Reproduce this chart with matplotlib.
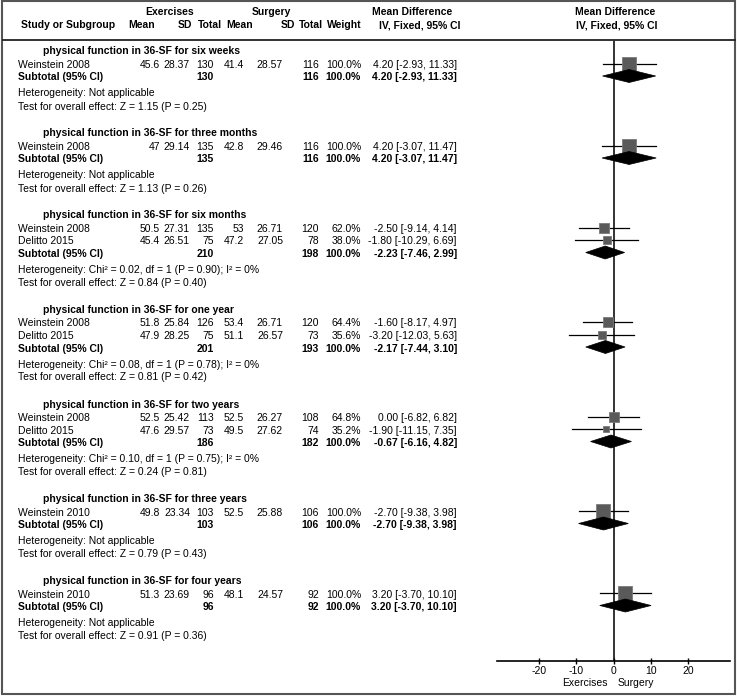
import matplotlib.pyplot as plt
from matplotlib.patches import Polygon, Rectangle
import numpy as np

plt.rcParams['font.family'] = ['Liberation Sans', 'DejaVu Sans']
plt.rcParams['axes.unicode_minus'] = False
FS = 7.5

# subgroups
groups = ["six weeks", "three months", "six months", "one year",
          "two years", "three years", "four years"]

# studies
study_group = [0, 1, 2, 2, 3, 3, 4, 4, 5, 6]
study_names = ["Weinstein 2008", "Weinstein 2008", "Weinstein 2008", "Delitto 2015",
               "Weinstein 2008", "Delitto 2015", "Weinstein 2008", "Delitto 2015",
               "Weinstein 2010", "Weinstein 2010"]
ex_mean = [45.6, 47, 50.5, 45.4, 51.8, 47.9, 52.5, 47.6, 49.8, 51.3]
ex_sd = [28.37, 29.14, 27.31, 26.51, 25.84, 28.25, 25.42, 29.57, 23.34, 23.69]
ex_n = [130, 135, 135, 75, 126, 75, 113, 73, 103, 96]
su_mean = [41.4, 42.8, 53, 47.2, 53.4, 51.1, 52.5, 49.5, 52.5, 48.1]
su_sd = [28.57, 29.46, 26.71, 27.05, 26.71, 26.57, 26.27, 27.62, 25.88, 24.57]
su_n = [116, 116, 120, 78, 120, 73, 108, 74, 106, 92]
weights = [100.0, 100.0, 62.0, 38.0, 64.4, 35.6, 64.8, 35.2, 100.0, 100.0]
md = [4.20, 4.20, -2.50, -1.80, -1.60, -3.20, 0.00, -1.90, -2.70, 3.20]
md_lo = [-2.93, -3.07, -9.14, -10.29, -8.17, -12.03, -6.82, -11.15, -9.38, -3.70]
md_hi = [11.33, 11.47, 4.14, 6.69, 4.97, 5.63, 6.82, 7.35, 3.98, 10.10]

# subtotals
sub_ex_n = [130, 135, 210, 201, 186, 103, 96]
sub_su_n = [116, 116, 198, 193, 182, 106, 92]
sub_md = [4.20, 4.20, -2.23, -2.17, -0.67, -2.70, 3.20]
sub_lo = [-2.93, -3.07, -7.46, -7.44, -6.16, -9.38, -3.70]
sub_hi = [11.33, 11.47, 2.99, 3.10, 4.82, 3.98, 10.10]
heterogeneity = ["Not applicable", "Not applicable",
                 "Chi\u00b2 = 0.02, df = 1 (P = 0.90); I\u00b2 = 0%",
                 "Chi\u00b2 = 0.08, df = 1 (P = 0.78); I\u00b2 = 0%",
                 "Chi\u00b2 = 0.10, df = 1 (P = 0.75); I\u00b2 = 0%",
                 "Not applicable", "Not applicable"]
overall_z = [1.15, 1.13, 0.84, 0.81, 0.24, 0.79, 0.91]
overall_p = [0.25, 0.26, 0.40, 0.42, 0.81, 0.43, 0.36]

xticks = [-20, -10, 0, 10, 20]

W, H = 737, 696
fig = plt.figure(figsize=(W / 100, H / 100), dpi=100)

# text layer in pixel coordinates
bg = fig.add_axes([0, 0, 1, 1])
bg.set_xlim(0, W)
bg.set_ylim(H, 0)
bg.axis('off')

# forest panel: x in mean difference, y in pixels from top
top, bottom = 40, 661
ax = fig.add_axes([497 / W, 1 - bottom / H, 233 / W, (bottom - top) / H])
ax.set_xlim(-31.3, 31.3)
ax.set_ylim(bottom, top)
ax.patch.set_visible(False)
for s in ['top', 'left', 'right']:
    ax.spines[s].set_visible(False)
ax.spines['bottom'].set_linewidth(1.2)
ax.set_yticks([])
ax.set_xticks(xticks)
ax.tick_params(axis='x', direction='inout', length=4.5, width=1, pad=1.5, labelsize=FS)
ax.axvline(0, color='#333333', lw=1.4, zorder=1)

def txt(x, y, s, ha='left', bold=False):
    bg.text(x, y, s, ha=ha, va='center', fontsize=FS,
            fontweight='bold' if bold else 'normal')

# column headers
txt(170, 12, "Exercises", 'center', True)
txt(271, 12, "Surgery", 'center', True)
txt(21, 25, "Study or Subgroup", bold=True)
txt(128, 25, "Mean", bold=True)
txt(192, 25, "SD", 'right', True)
txt(222, 25, "Total", 'right', True)
txt(226, 25, "Mean", bold=True)
txt(295, 25, "SD", 'right', True)
txt(323, 25, "Total", 'right', True)
txt(362, 25, "Weight", 'right', True)
txt(412, 12, "Mean Difference", 'center', True)
txt(420, 25, "IV, Fixed, 95% CI", 'center', True)
txt(615, 12, "Mean Difference", 'center', True)
txt(617, 25, "IV, Fixed, 95% CI", 'center', True)
bg.plot([3, 735], [40, 40], color='#222222', lw=1.3)

def md_str(m, lo, hi):
    return f"{m:.2f} [{lo:.2f}, {hi:.2f}]"

y = 51.5
for g, name in enumerate(groups):
    txt(43, y, "physical function in 36-SF for " + name, bold=True)
    y += 13.5
    for i in [k for k, gg in enumerate(study_group) if gg == g]:
        txt(18, y, study_names[i])
        txt(160, y, f"{ex_mean[i]:g}", 'right')
        txt(190, y, f"{ex_sd[i]:.2f}", 'right')
        txt(214, y, f"{ex_n[i]}", 'right')
        txt(244, y, f"{su_mean[i]:g}", 'right')
        txt(283, y, f"{su_sd[i]:.2f}", 'right')
        txt(319, y, f"{su_n[i]}", 'right')
        txt(361, y, f"{weights[i]:.1f}%", 'right')
        txt(457, y, md_str(md[i], md_lo[i], md_hi[i]), 'right')
        ax.plot([md_lo[i], md_hi[i]], [y - 1.5, y - 1.5], color='black', lw=0.9, zorder=2)
        side = 14.5 * (weights[i] / 100) ** 0.7
        ax.plot(md[i], y - 1.5, marker='s', ms=side / 1.389, mfc='#5a5a5a',
                mec='#7a7a7a', mew=0.6, zorder=3)
        y += 12.5
    txt(18, y, "Subtotal (95% CI)", bold=True)
    txt(214, y, f"{sub_ex_n[g]}", 'right', True)
    txt(319, y, f"{sub_su_n[g]}", 'right', True)
    txt(361, y, "100.0%", 'right', True)
    txt(457, y, md_str(sub_md[g], sub_lo[g], sub_hi[g]), 'right', True)
    yd = y - 1.5
    ax.add_patch(Polygon([(sub_lo[g], yd), (sub_md[g], yd - 6.5), (sub_hi[g], yd),
                          (sub_md[g], yd + 6.5)], closed=True, fc='black', ec='black',
                         lw=0.5, zorder=4))
    y += 16
    txt(18, y, "Heterogeneity: " + heterogeneity[g])
    y += 13
    txt(18, y, f"Test for overall effect: Z = {overall_z[g]:.2f} (P = {overall_p[g]:.2f})")
    y += 27

txt(608, 683, "Exercises", 'right')
txt(618, 683, "Surgery")

bg.add_patch(Rectangle((2, 1), 733, 693, fill=False, ec='#555555', lw=1.5))

fig.savefig("out.png", dpi=100)
